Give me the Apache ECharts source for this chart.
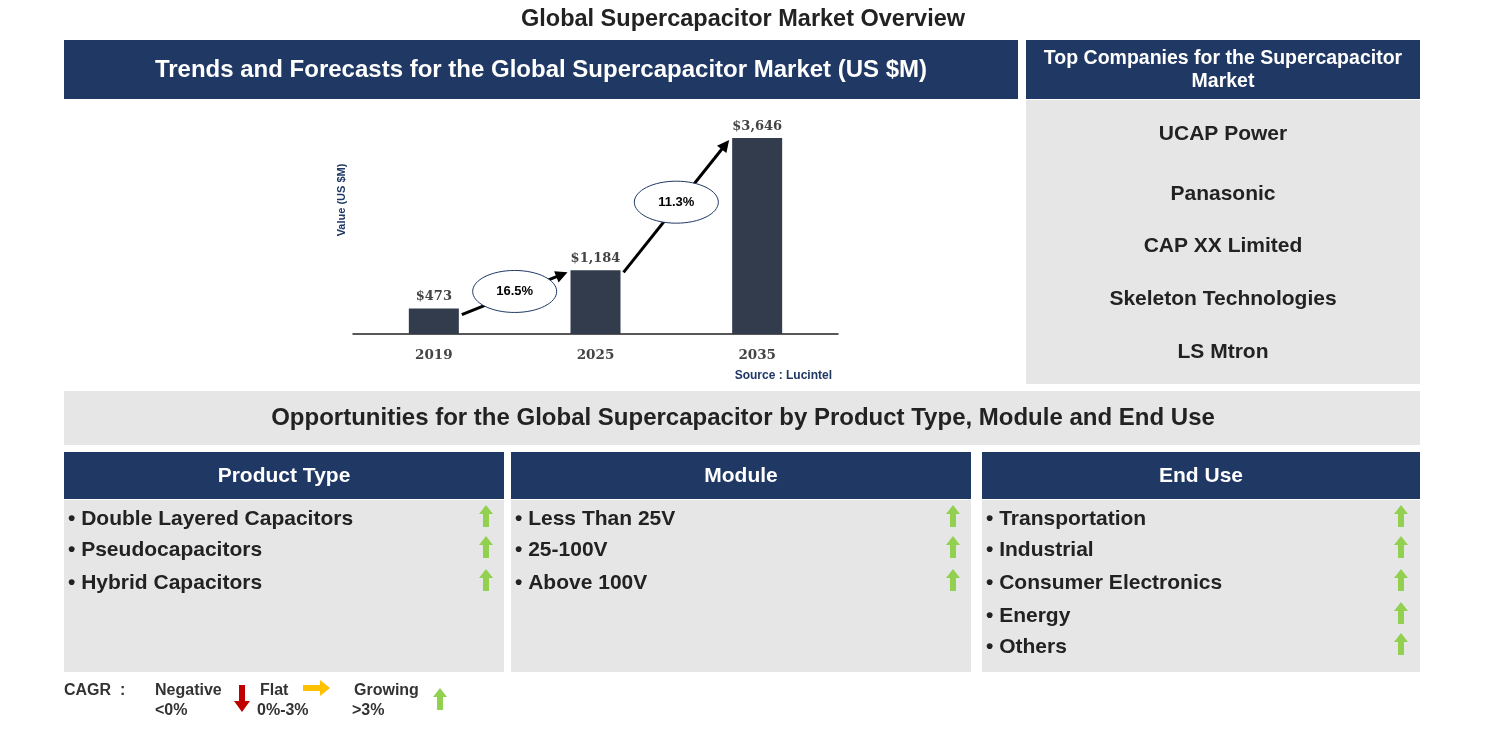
<!DOCTYPE html>
<html><head><meta charset="utf-8">
<script src="https://cdn.jsdelivr.net/npm/echarts@6/dist/echarts.min.js"></script>
<style>html,body{margin:0;padding:0;background:#fff}#main{width:1486px;height:734px}</style>
</head><body><div id="main"></div>
<script>
var years = ['2019', '2025', '2035'];
var values = [473, 1184, 3646];
var cagrLabels = ['16.5%', '11.3%'];
var companies = ['UCAP Power', 'Panasonic', 'CAP XX Limited', 'Skeleton Technologies', 'LS Mtron'];
var productTypes = ['Double Layered Capacitors', 'Pseudocapacitors', 'Hybrid Capacitors'];
var modules = ['Less Than 25V', '25-100V', 'Above 100V'];
var endUses = ['Transportation', 'Industrial', 'Consumer Electronics', 'Energy', 'Others'];

var NAVY = '#203864', GRAY = '#e7e6e6', GREEN = '#92d050';
var chart = echarts.init(document.getElementById('main'));

function rect(x, y, w, h, fill) {
    return {type: 'rect', shape: {x: x, y: y, width: w, height: h}, style: {fill: fill}, silent: true};
}
function txt(x, y, s, size, color, align, lh) {
    return {type: 'text', x: x, y: y, style: {text: s, fill: color, font: 'bold ' + size + 'px Arial, "Liberation Sans"', textAlign: align || 'center', textVerticalAlign: 'middle', lineHeight: lh}, silent: true};
}
function upArrow(cx, cy, color) {
    return {type: 'polygon', shape: {points: [[cx, cy - 11], [cx - 7, cy - 2], [cx - 3, cy - 2], [cx - 3, cy + 11], [cx + 3, cy + 11], [cx + 3, cy - 2], [cx + 7, cy - 2]]}, style: {fill: color}, silent: true};
}

var g = [];
g.push(txt(743, 20, 'Global Supercapacitor Market Overview', 23.5, '#222'));
g.push(rect(64, 40, 954, 59, NAVY));
g.push(txt(541, 70, 'Trends and Forecasts for the Global Supercapacitor Market (US $M)', 24, '#fff'));
g.push(rect(1026, 40, 394, 59, NAVY));
g.push(txt(1223, 70, 'Top Companies for the Supercapacitor\nMarket', 19.5, '#fff', 'center', 23));
g.push(rect(1026, 100, 394, 284, GRAY));
var compY = [134, 194, 246, 299, 352];
companies.forEach(function (c, i) { g.push(txt(1223, compY[i], c, 21, '#222')); });
g.push(rect(64, 391, 1356, 54, GRAY));
g.push(txt(743, 418, 'Opportunities for the Global Supercapacitor by Product Type, Module and End Use', 24, '#222'));

var cols = [
    {x: 64, w: 440, title: 'Product Type', items: productTypes, ax: 486},
    {x: 511, w: 460, title: 'Module', items: modules, ax: 953},
    {x: 982, w: 438, title: 'End Use', items: endUses, ax: 1401}
];
var rowY = [519, 550, 583, 616, 647];
cols.forEach(function (c) {
    g.push(rect(c.x, 452, c.w, 47, NAVY));
    g.push(txt(c.x + c.w / 2, 476, c.title, 21, '#fff'));
    g.push(rect(c.x, 500, c.w, 172, GRAY));
    c.items.forEach(function (s, i) {
        g.push(txt(c.x + 4, rowY[i], '\u2022 ' + s, 21, '#222', 'left'));
        g.push(upArrow(c.ax, rowY[i] - 3, GREEN));
    });
});

g.push(txt(64, 691, 'CAGR  :', 16, '#333', 'left'));
g.push(txt(155, 691, 'Negative', 16, '#333', 'left'));
g.push(txt(155, 711, '<0%', 16, '#333', 'left'));
g.push({type: 'polygon', shape: {points: [[239, 685], [245, 685], [245, 701], [250, 701], [242, 712], [234, 701], [239, 701]]}, style: {fill: '#c00000'}, silent: true});
g.push(txt(260, 691, 'Flat', 16, '#333', 'left'));
g.push(txt(257, 711, '0%-3%', 16, '#333', 'left'));
g.push({type: 'polygon', shape: {points: [[303, 685], [320, 685], [320, 680], [330, 688], [320, 696], [320, 691], [303, 691]]}, style: {fill: '#ffc000'}, silent: true});
g.push(txt(354, 691, 'Growing', 16, '#333', 'left'));
g.push(txt(352, 711, '>3%', 16, '#333', 'left'));
g.push(upArrow(440, 699, GREEN));
g.push(txt(832, 376, 'Source : Lucintel', 12, '#1f3864', 'right'));
g.push({type: 'text', x: 342, y: 200, rotation: Math.PI / 2, style: {text: 'Value (US $M)', fill: '#1f3864', font: 'bold 11px Arial, "Liberation Sans"', textAlign: 'center', textVerticalAlign: 'middle'}, silent: true});

var option = {
    backgroundColor: '#fff',
    animation: false,
    grid: {left: 353, right: 1486 - 838, top: 138, bottom: 734 - 334},
    xAxis: {
        type: 'category', data: years,
        axisLine: {lineStyle: {color: '#222', width: 1.5}}, axisTick: {show: false},
        axisLabel: {margin: 14, color: '#444', fontSize: 13.5, fontWeight: 'bold', fontFamily: 'DejaVu Serif'}
    },
    yAxis: {
        type: 'value', min: 0, max: 3646,
        axisLine: {show: false}, axisTick: {show: false}, axisLabel: {show: false}, splitLine: {show: false}
    },
    series: [{
        type: 'bar', data: values, barWidth: 50,
        itemStyle: {color: '#323c4d'},
        label: {show: true, position: 'top', color: '#444', fontSize: 13, fontWeight: 'bold', fontFamily: 'DejaVu Serif',
            formatter: function (p) { return '$' + p.value.toLocaleString('en-US'); }}
    }],
    graphic: g
};
chart.setOption(option);

// CAGR arrows between bar tops, placed through the chart's scales
var extra = [];
for (var i = 0; i < 2; i++) {
    var a = chart.convertToPixel({seriesIndex: 0}, [i, values[i]]);
    var b = chart.convertToPixel({seriesIndex: 0}, [i + 1, values[i + 1]]);
    var x1 = a[0] + 28, y1 = a[1] + (i === 0 ? 6 : 2);
    var x2 = b[0] - 28, y2 = b[1] + 2;
    var ang = Math.atan2(y2 - y1, x2 - x1);
    extra.push({type: 'line', shape: {x1: x1, y1: y1, x2: x2 - 9 * Math.cos(ang), y2: y2 - 9 * Math.sin(ang)}, style: {stroke: '#000', lineWidth: 3}, silent: true});
    extra.push({type: 'polygon', shape: {points: [
        [x2, y2],
        [x2 - 12 * Math.cos(ang) + 6 * Math.sin(ang), y2 - 12 * Math.sin(ang) - 6 * Math.cos(ang)],
        [x2 - 12 * Math.cos(ang) - 6 * Math.sin(ang), y2 - 12 * Math.sin(ang) + 6 * Math.cos(ang)]
    ]}, style: {fill: '#000'}, silent: true});
    var mx = (x1 + x2) / 2, my = (y1 + y2) / 2 + (i === 0 ? -2 : -4);
    extra.push({type: 'ellipse', shape: {cx: mx, cy: my, rx: 42, ry: 21}, style: {fill: '#fff', stroke: '#1f3864', lineWidth: 1}, silent: true});
    extra.push(txt(mx, my, cagrLabels[i], 13, '#000'));
}
chart.setOption({graphic: g.concat(extra)});
</script></body></html>
